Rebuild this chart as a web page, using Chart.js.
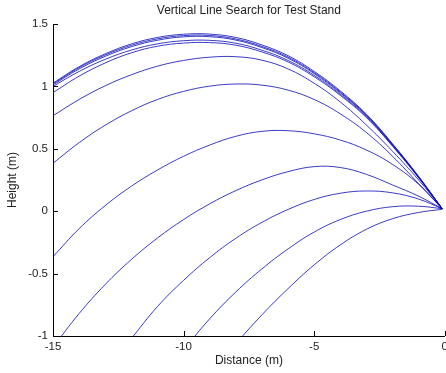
<!DOCTYPE html>
<html>
<head>
<meta charset="utf-8">
<script src="https://cdn.jsdelivr.net/npm/chart.js@4.4.0/dist/chart.umd.min.js"></script>
<style>
  html, body { margin: 0; padding: 0; background: #fff; overflow: hidden; }
  #wrap { width: 452px; height: 373px; }
</style>
</head>
<body>
<div id="wrap"><canvas id="line-search-chart" width="452" height="373"></canvas></div>
<script>
// x positions shared by every curve (m)
let distance = [-15, -14, -13, -12, -11, -10, -9, -8, -7, -6, -5, -4, -3, -2, -1, -0.1];

// heights, one array per curve (null = below the plot)
let curveA1 = [1.026, 1.158, 1.261, 1.34, 1.392, 1.418, 1.419, 1.392, 1.332, 1.246, 1.12, 0.964, 0.777, 0.54, 0.278, 0.02];
let curveA2 = [1.02, 1.15, 1.252, 1.329, 1.381, 1.407, 1.408, 1.38, 1.32, 1.235, 1.11, 0.955, 0.77, 0.535, 0.275, 0.02];
let curveA3 = [1.012, 1.14, 1.241, 1.318, 1.37, 1.397, 1.398, 1.371, 1.311, 1.226, 1.102, 0.948, 0.765, 0.531, 0.273, 0.02];
let curveA4 = [1.0, 1.12, 1.217, 1.291, 1.341, 1.366, 1.369, 1.346, 1.29, 1.208, 1.088, 0.937, 0.757, 0.526, 0.27, 0.02];
let curveA5 = [0.95, 1.082, 1.188, 1.269, 1.322, 1.347, 1.351, 1.33, 1.276, 1.196, 1.077, 0.928, 0.75, 0.52, 0.267, 0.02];
let curveB = [0.765, 0.895, 1.005, 1.093, 1.162, 1.208, 1.234, 1.238, 1.21, 1.14, 1.025, 0.875, 0.69, 0.48, 0.25, 0.02];
let curveC = [0.384, 0.549, 0.689, 0.804, 0.895, 0.96, 1.002, 1.019, 1.01, 0.97, 0.895, 0.78, 0.63, 0.44, 0.22, 0.02];
let curveD = [-0.365, -0.14, 0.045, 0.2, 0.33, 0.44, 0.53, 0.6, 0.64, 0.645, 0.62, 0.57, 0.49, 0.375, 0.215, 0.02];
let curveE = [-1.09, -0.82, -0.587, -0.387, -0.215, -0.067, 0.059, 0.165, 0.251, 0.317, 0.357, 0.35, 0.295, 0.21, 0.12, 0.02];
let curveF = [null, null, null, -1.02, -0.764, -0.554, -0.372, -0.217, -0.089, 0.014, 0.094, 0.144, 0.162, 0.147, 0.097, 0.02];
let curveG = [null, null, null, null, null, -1.11, -0.862, -0.647, -0.462, -0.302, -0.167, -0.067, 0.0, 0.036, 0.04, 0.02];
let curveH = [null, null, null, null, null, null, null, -1.06, -0.83, -0.62, -0.43, -0.27, -0.145, -0.06, -0.01, 0.015];

let curves = [curveA1, curveA2, curveA3, curveA4, curveA5, curveB, curveC, curveD, curveE, curveF, curveG, curveH];

let distanceTicks = [-15, -10, -5, 0];
let distanceTickLabels = ["-15", "-10", "-5", "0"];
let heightTicks = [-1, -0.5, 0, 0.5, 1, 1.5];
let heightTickLabels = ["-1", "-0.5", "0", "0.5", "1", "1.5"];

let lineColour = "rgba(10, 10, 185, 0.8)";
let textColour = "#222";

Chart.defaults.font.family = '"Liberation Sans", Arial, sans-serif';
Chart.defaults.font.size = 12;
Chart.defaults.color = textColour;

// matlab style ticks pointing into the plot
let inwardTicks = {
  id: "inwardTicks",
  afterDatasetsDraw(chart) {
    let { ctx, chartArea, scales } = chart;
    ctx.save();
    ctx.strokeStyle = "#000";
    ctx.lineWidth = 1;
    ctx.beginPath();
    distanceTicks.forEach((v) => {
      let px = Math.round(scales.x.getPixelForValue(v)) + 0.5;
      ctx.moveTo(px, chartArea.bottom);
      ctx.lineTo(px, chartArea.bottom - 5);
    });
    heightTicks.forEach((v) => {
      let py = Math.round(scales.y.getPixelForValue(v)) + 0.5;
      ctx.moveTo(chartArea.left, py);
      ctx.lineTo(chartArea.left + 5, py);
    });
    ctx.stroke();
    ctx.restore();
  },
};

let datasets = curves.map((values) => ({
  data: distance
    .map((x, i) => ({ x: x, y: values[i] }))
    .filter((p) => p.y !== null),
  borderColor: lineColour,
  borderWidth: 1,
  pointRadius: 0,
  fill: false,
  tension: 0.4,
  xAxisID: "x",
  yAxisID: "y",
}));

let lineSearchChart = new Chart("line-search-chart", {
  type: "line",
  data: { datasets: datasets },
  plugins: [inwardTicks],
  options: {
    responsive: false,
    animation: false,
    layout: { padding: { left: 0, right: 4, top: 0, bottom: 0 } },
    plugins: {
      legend: { display: false },
      tooltip: { enabled: false },
      title: { display: false },
    },
    scales: {
      x: {
        type: "linear",
        position: "bottom",
        min: -15,
        max: 0,
        afterBuildTicks: (s) => {
          s.ticks = distanceTicks.map((v) => ({ value: v }));
        },
        afterFit: (s) => {
          s.height = 37;
        },
        grid: { display: false, drawTicks: false },
        border: { display: true, color: "#000", width: 1 },
        ticks: {
          padding: 4,
          maxRotation: 0,
          autoSkip: false,
          font: { size: 11.5 },
          callback: (v, i) => distanceTickLabels[i],
        },
        title: {
          display: true,
          text: "Distance (m)",
          padding: { top: 0, bottom: 5 },
        },
      },
      top: {
        type: "linear",
        position: "top",
        min: -15,
        max: 0,
        afterFit: (s) => {
          s.height = 24;
        },
        grid: { display: false, drawTicks: false },
        border: { display: false },
        ticks: { display: false },
        title: {
          display: true,
          text: "Vertical Line Search for Test Stand",
          padding: { top: 3, bottom: 0 },
        },
      },
      y: {
        type: "linear",
        position: "left",
        min: -1,
        max: 1.5,
        afterBuildTicks: (s) => {
          s.ticks = heightTicks.map((v) => ({ value: v }));
        },
        afterFit: (s) => {
          s.width = 53;
        },
        grid: { display: false, drawTicks: false },
        border: { display: true, color: "#000", width: 1 },
        ticks: {
          padding: 5,
          autoSkip: false,
          font: { size: 11.5 },
          callback: (v, i) => heightTickLabels[i],
        },
        title: {
          display: true,
          text: "Height (m)",
          padding: { top: 5.5, bottom: 0 },
        },
      },
    },
  },
});
</script>
</body>
</html>
